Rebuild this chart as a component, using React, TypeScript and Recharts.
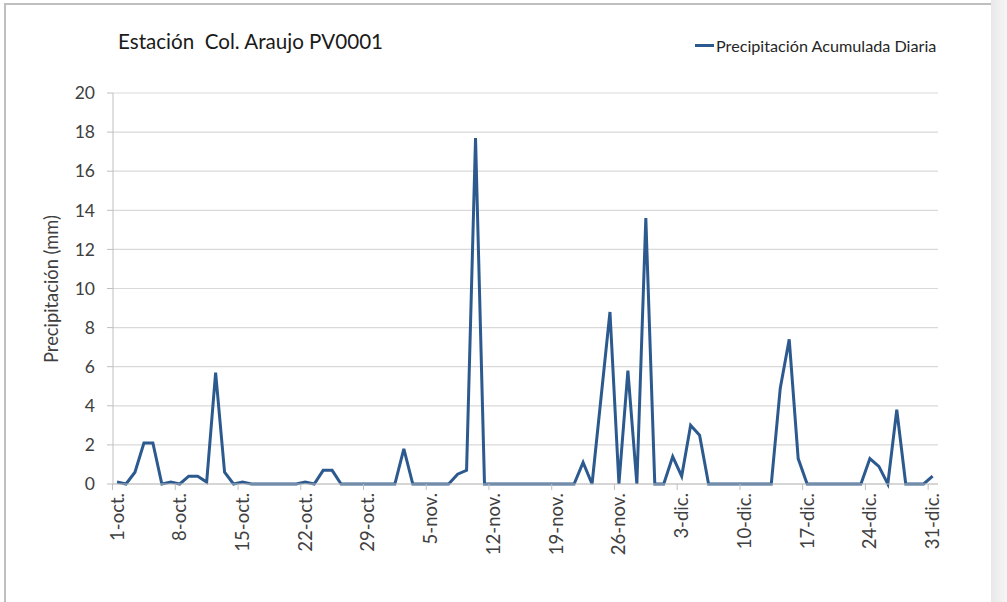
import { LineChart, Line, XAxis, YAxis, CartesianGrid, Legend } from 'recharts';

const FONT = 'Lato, "Open Sans", sans-serif';
const BLUE = '#2C5A8F';
const GRID = '#d9d9d9';
const AXIS = '#bfbfbf';
const TEXT = '#404040';

// precipitación diaria, 1-oct .. 31-dic (mm)
const precip = [
  0.1, 0, 0.6, 2.1, 2.1, 0, 0.1, 0, 0.4, 0.4, 0.1, 5.7, 0.6, 0, 0.1, 0,
  0, 0, 0, 0, 0, 0.1, 0, 0.7, 0.7, 0, 0, 0, 0, 0, 0, 0,
  1.8, 0, 0, 0, 0, 0, 0.5, 0.7, 17.7, 0, 0, 0, 0, 0, 0, 0,
  0, 0, 0, 0, 1.1, 0, 4.4, 8.8, 0, 5.8, 0, 13.6, 0, 0, 1.4, 0.4,
  3.0, 2.5, 0, 0, 0, 0, 0, 0, 0, 0, 4.9, 7.4, 1.3, 0, 0, 0,
  0, 0, 0, 0, 1.3, 0.9, 0, 3.8, 0, 0, 0, 0.4,
];

const tickDays = [0, 7, 14, 21, 28, 35, 42, 49, 56, 63, 70, 77, 84, 91];
const tickLabels = [
  '1-oct.', '8-oct.', '15-oct.', '22-oct.', '29-oct.', '5-nov.', '12-nov.',
  '19-nov.', '26-nov.', '3-dic.', '10-dic.', '17-dic.', '24-dic.', '31-dic.',
];
const yTicks = [0, 2, 4, 6, 8, 10, 12, 14, 16, 18, 20];

const data = precip.map((v, i) => ({ day: i, v }));

// half a day in px, tick marks sit between days like in Excel
const HALF = 4.48;

function XTick({ x, y, payload }: any) {
  const idx = tickDays.indexOf(payload.value);
  return (
    <g>
      <line x1={x - HALF} x2={x - HALF} y1={y} y2={y + 6} stroke={AXIS} />
      <text
        transform={`translate(${x},${y + 9}) rotate(-90)`}
        textAnchor="end"
        dy="0.35em"
        fontSize={18.5}
        fill={TEXT}
        fontFamily={FONT}
      >
        {tickLabels[idx]}
      </text>
    </g>
  );
}

function LegendBox() {
  return (
    <div style={{ display: 'flex', alignItems: 'center', fontFamily: FONT, fontSize: 16.2, color: '#262626' }}>
      <span style={{ width: 19, height: 3, background: BLUE, display: 'inline-block', marginRight: 2 }} />
      <span>Precipitación Acumulada Diaria</span>
    </div>
  );
}

export default function App() {
  return (
    <div style={{ position: 'fixed', left: 0, top: 0, width: 1007, height: 602, background: '#fff', overflow: 'hidden' }}>
      <div style={{ position: 'absolute', left: 4, top: 3, right: 16, bottom: 0, borderLeft: `2px solid ${AXIS}`, borderTop: `2px solid ${AXIS}` }} />
      <div style={{ position: 'absolute', right: 0, top: 0, width: 16, height: 602, background: 'linear-gradient(to right, #e8e8e8, #f6f6f6)' }} />
      <div style={{ position: 'absolute', left: 118, top: 29, fontFamily: FONT, fontSize: 20.6, color: '#1a1a1a', whiteSpace: 'pre' }}>
        {'Estación  Col. Araujo PV0001'}
      </div>
      <LineChart
        width={1007}
        height={602}
        data={data}
        margin={{ top: 93, right: 69, bottom: 58, left: 53 }}
        style={{ position: 'absolute', left: 0, top: 0 }}
      >
        <CartesianGrid vertical={false} stroke={GRID} strokeWidth={1.2} />
        <XAxis
          dataKey="day"
          type="number"
          domain={[-0.45, 91.6]}
          ticks={tickDays}
          interval={0}
          height={60}
          tickSize={0}
          tickMargin={0}
          tickLine={false}
          axisLine={{ stroke: AXIS }}
          tick={<XTick />}
        />
        <YAxis
          domain={[0, 20]}
          ticks={yTicks}
          width={60}
          tickSize={6}
          tickMargin={12}
          tickLine={{ stroke: AXIS }}
          axisLine={{ stroke: AXIS }}
          tick={{ fontSize: 17.5, fill: TEXT, fontFamily: FONT }}
          label={{
            content: () => (
              <text
                transform="translate(58,289) rotate(-90)"
                textAnchor="middle"
                fontSize={18.3}
                fill={TEXT}
                fontFamily={FONT}
              >
                Precipitación (mm)
              </text>
            ),
          }}
        />
        <Legend
          layout="horizontal"
          verticalAlign="middle"
          align="center"
          wrapperStyle={{ top: 36, left: 695, width: 300 }}
          content={<LegendBox />}
        />
        <Line
          type="linear"
          dataKey="v"
          name="Precipitación Acumulada Diaria"
          stroke={BLUE}
          strokeWidth={3}
          dot={false}
          activeDot={false}
          isAnimationActive={false}
        />
      </LineChart>
    </div>
  );
}
